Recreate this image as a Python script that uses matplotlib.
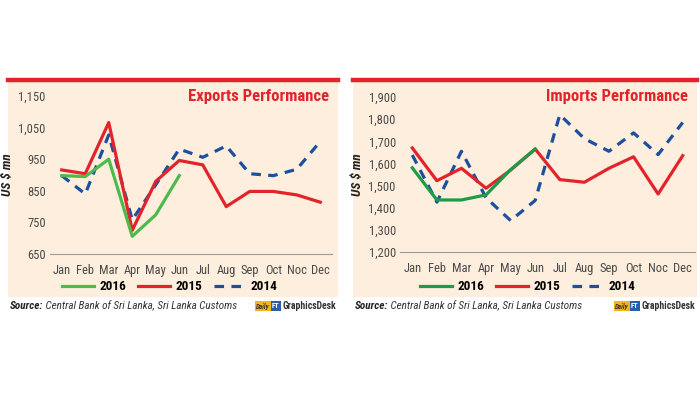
#!/usr/bin/env python3

import matplotlib
matplotlib.use("Agg")
import matplotlib.pyplot as plt
from matplotlib.patches import Rectangle
from matplotlib.lines import Line2D

plt.rcParams['font.family'] = ['Roboto Condensed', 'Liberation Sans Narrow', 'Liberation Sans', 'DejaVu Sans']

months = ["Jan", "Feb", "Mar", "Apr", "May", "Jun", "Jul",
          "Aug", "Sep", "Oct", "Noc", "Dec"]

exp_2016 = [898, 895, 950, 706, 774, 898]
exp_2015 = [916, 904, 1066, 725, 880, 946, 932, 800, 848, 848, 837, 814]
exp_2014 = [898, 840, 1027, 758, 869, 982, 956, 992, 904, 898, 918, 1006]
exp_ticks = [650, 750, 850, 950, 1050, 1150]

imp_2016 = [1580, 1435, 1435, 1458, 1572, 1665]
imp_2015 = [1670, 1522, 1578, 1488, 1570, 1665, 1527, 1515, 1578, 1630, 1462, 1635]
imp_2014 = [1638, 1425, 1655, 1445, 1342, 1433, 1820, 1712, 1655, 1738, 1640, 1785]
imp_ticks = [1200, 1300, 1400, 1500, 1600, 1700, 1800, 1900]

source = " Central Bank of Sri Lanka, Sri Lanka Customs"

W, H = 700, 400
BG = "#fdeedd"
RED = "#e3232b"
BLUE = "#1c4f9e"
GREY = "#4a4a4a"


def fx(px):
    return px / W


def fy(py):
    return 1 - py / H


fig = plt.figure(figsize=(7, 4), dpi=100)
fig.patch.set_facecolor("white")


def panel(x0, x1, ax_l, ax_r, ax_top, ax_bot, y16, y15, y14, ticks, title, green, leg_x):
    # background + red top rule
    fig.patches.append(Rectangle((fx(x0), fy(297)), fx(x1 - x0), (297 - 80) / H,
                                 transform=fig.transFigure, facecolor=BG,
                                 edgecolor="none", zorder=-10))
    fig.add_artist(Line2D([fx(x0), fx(x1)], [fy(80), fy(80)], color=RED, lw=3.2,
                          transform=fig.transFigure, zorder=-5))

    ax = fig.add_axes([fx(ax_l), fy(ax_bot), fx(ax_r - ax_l), (ax_bot - ax_top) / H])
    ax.set_facecolor("none")
    ax.set_zorder(2)
    x = list(range(len(months)))
    l16, = ax.plot(x[:len(y16)], y16, color=green, lw=2.3, label="2016", zorder=3)
    l15, = ax.plot(x, y15, color=RED, lw=2.3, label="2015", zorder=2)
    l14, = ax.plot(x, y14, color=BLUE, lw=2.3, ls=(0, (3, 2.3)), label="2014", zorder=1)

    ax.set_xlim(-0.5, 11.5)
    ax.set_ylim(ticks[0], ticks[-1])
    ax.set_yticks(ticks)
    ax.set_yticklabels([f"{t:,}" for t in ticks])
    ax.set_xticks(x)
    ax.set_xticklabels(months)
    for s in ["top", "right", "left"]:
        ax.spines[s].set_visible(False)
    ax.spines["bottom"].set_color("#9a9a9a")
    ax.spines["bottom"].set_linewidth(0.8)
    ax.tick_params(axis="both", length=0, labelsize=9, colors=GREY)
    ax.tick_params(axis="x", pad=7)
    ax.tick_params(axis="y", pad=3)
    ax.set_ylabel("US $ mn", fontsize=9.5, fontweight="bold", fontstyle="italic",
                  color="#222222", labelpad=3)

    fig.text(fx(x1 - 9), fy(96), title, color=RED, fontsize=12, fontweight="bold",
             ha="right", va="center")

    fig.legend(handles=[l16, l15, l14], loc="center", bbox_to_anchor=(fx(leg_x), fy(287)),
               ncol=3, frameon=False, handlelength=2.4, columnspacing=0.9,
               handletextpad=0.4, prop={"weight": "bold", "size": 9.5})

    t = fig.text(fx(x0 + 2), fy(306), "Source:", fontsize=8, fontweight="bold",
                 fontstyle="italic", color="#222222", va="center")
    fig.add_artist(plt.Annotation(source, xy=(1, 0.5), xycoords=t, va="center",
                                  fontsize=8, fontstyle="italic", color="#333333"))
    # GraphicsDesk logo
    gd = fig.text(fx(x1 - 2), fy(306), "GraphicsDesk", fontsize=7, fontweight="bold",
                  color="#333333", va="center", ha="right")
    ft = plt.Annotation("FT", xy=(0, 0.5), xycoords=gd, xytext=(-2, 0),
                        textcoords="offset points", ha="right", va="center",
                        fontsize=5.5, fontweight="bold", color="white",
                        bbox=dict(boxstyle="square,pad=0.15", fc="#2c5fa8", ec="none"))
    fig.add_artist(ft)
    fig.add_artist(plt.Annotation("Daily", xy=(0, 0.5), xycoords=ft, xytext=(-1.5, 0),
                                  textcoords="offset points", ha="right", va="center",
                                  fontsize=5, fontweight="bold", fontstyle="italic",
                                  color="#333333",
                                  bbox=dict(boxstyle="square,pad=0.2", fc="#f4b422", ec="none")))
    return ax


panel(8, 338, 50, 332, 96, 254, exp_2016, exp_2015, exp_2014, exp_ticks,
      "Exports Performance", "#4cbb4c", 170)
panel(353, 697, 400, 695, 97, 252, imp_2016, imp_2015, imp_2014, imp_ticks,
      "Imports Performance", "#1e9a48", 528)

plt.savefig("out.png", dpi=100)
